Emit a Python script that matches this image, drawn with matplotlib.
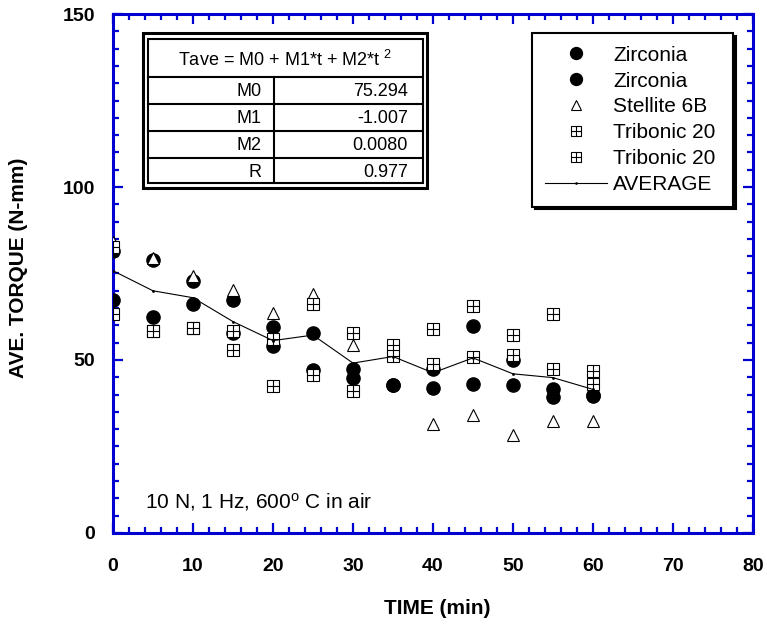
import numpy as np
import matplotlib
matplotlib.use("Agg")
from matplotlib import pyplot as plt
from matplotlib.patches import Rectangle

plt.rcParams['font.family'] = ['Liberation Sans', 'DejaVu Sans']
plt.rcParams['mathtext.default'] = 'regular'

# values
time = [0, 5, 10, 15, 20, 25, 30, 35, 40, 45, 50, 55, 60]
zirc_a = [81.5, 79.0, 72.8, 67.3, 59.5, 57.7, 47.5, 42.8, 47.3, 59.9, 50.0, 41.7, 39.8]
zirc_b = [67.3, 62.5, 66.1, 57.7, 53.9, 47.1, 44.8, 42.8, 42.0, 43.1, 42.8, 39.4, 39.6]
stellite = [84.2, 79.5, 74.3, 70.2, 63.5, 69.1, 54.4, np.nan, 31.4, 34.1, 28.3, 32.4, 32.5]
trib_a = [82.8, 58.5, 59.3, 58.5, 56.0, 66.2, 57.7, 54.3, 58.9, 65.6, 57.2, 63.3, 46.8]
trib_b = [63.3, 58.5, 59.3, 52.9, 42.5, 45.7, 41.1, 51.2, 48.8, 51.0, 51.3, 47.4, 43.0]
average = [75.8, 70.0, 68.0, 61.1, 55.6, 57.2, 49.1, 51.0, 46.3, 50.6, 46.0, 44.9, 41.5]

labels = ['Zirconia', 'Zirconia', 'Stellite 6B', 'Tribonic 20', 'Tribonic 20', 'AVERAGE']
fit_names = ['M0', 'M1', 'M2', 'R']
fit_values = ['75.294', '-1.007', '0.0080', '0.977']

blue = '#0000D0'

fig = plt.figure(figsize=(7.67, 6.26), dpi=100)
ax = fig.add_axes([0.1473, 0.1486, 0.8344, 0.829])

circ_kw = dict(ls='none', marker='o', ms=9.5, color='black')
tri_kw = dict(ls='none', marker='^', ms=8.5, mfc='white', mec='black', mew=0.8)
sq_kw = dict(ls='none', marker='s', ms=8.3, mfc='white', mec='black', mew=0.8)
plus_kw = dict(ls='none', marker='+', ms=8.5, mec='black', mew=0.8)

h1, = ax.plot(time, zirc_a, zorder=3, **circ_kw)
h2, = ax.plot(time, zirc_b, zorder=3, **circ_kw)
h3, = ax.plot(time, stellite, zorder=4, **tri_kw)
s1, = ax.plot(time, trib_a, zorder=5, **sq_kw)
p1, = ax.plot(time, trib_a, zorder=5, **plus_kw)
s2, = ax.plot(time, trib_b, zorder=5, **sq_kw)
p2, = ax.plot(time, trib_b, zorder=5, **plus_kw)
h6, = ax.plot(time, average, color='black', lw=0.8, marker='.', ms=2, zorder=6)

ax.set_xlim(0, 80)
ax.set_ylim(0, 150)
ax.set_xticks(np.arange(0, 81, 10))
ax.set_xticks(np.arange(0, 81, 2), minor=True)
ax.set_yticks([0, 50, 100, 150])
ax.set_yticks(np.arange(0, 151, 5), minor=True)

for sp in ax.spines.values():
    sp.set_color(blue)
    sp.set_linewidth(2.2)
ax.tick_params(which='both', direction='in', top=True, right=True, color=blue, width=1.6)
ax.tick_params(which='major', length=7.5)
ax.tick_params(which='minor', length=4)
ax.tick_params(axis='y', pad=13, labelsize=14)
ax.tick_params(axis='x', pad=18, labelsize=14)
for lab in ax.get_xticklabels() + ax.get_yticklabels():
    lab.set_fontweight('bold')

ax.set_xlabel('TIME (min)', fontsize=15, fontweight='bold')
ax.set_ylabel('AVE. TORQUE (N-mm)', fontsize=15, fontweight='bold')
ax.xaxis.set_label_coords(0.506, -0.127)
ax.yaxis.set_label_coords(-0.133, 0.51)

ax.text(0.05, 0.06, '10 N, 1 Hz, 600$^o$ C in air', transform=ax.transAxes,
        fontsize=15, va='center', ha='left')

# legend
leg = ax.legend([h1, h2, h3, (s1, p1), (s2, p2), h6], labels,
                loc='upper left', bbox_to_anchor=(0.655, 0.638, 0.314, 0.325),
                mode='expand', borderaxespad=0, fontsize=15, frameon=True,
                fancybox=False, labelspacing=0.33, handlelength=3.0,
                handletextpad=0.3, borderpad=0.6, markerscale=0.9,
                shadow={'color': 'black', 'alpha': 1})
leg.get_frame().set_edgecolor('black')
leg.get_frame().set_linewidth(1.5)
leg.set_zorder(10)

# fit table
def px(x, y):
    return ((x - 113) / 640.0, (533 - y) / 519.0)

x0, y0 = px(143, 188)
x1, y1 = px(427, 33)
ax.add_patch(Rectangle((x0, y0), x1 - x0, y1 - y0, transform=ax.transAxes,
                       fc='white', ec='black', lw=2.2, zorder=8, clip_on=False))
ix0, iy0 = px(148, 183)
ix1, iy1 = px(423, 39)
ax.add_patch(Rectangle((ix0, iy0), ix1 - ix0, iy1 - iy0, transform=ax.transAxes,
                       fc='none', ec='black', lw=1.5, zorder=9, clip_on=False))
row_lines = [77, 104, 131, 158]
for yy in row_lines:
    a, b = px(148, yy)
    ax.plot([ix0, ix1], [b, b], transform=ax.transAxes, color='black', lw=1.5, zorder=9)
cx, cy = px(274, 77)
ax.plot([cx, cx], [iy0, cy], transform=ax.transAxes, color='black', lw=1.5, zorder=9)

hx, hy = px(285, 60)
ax.text(hx, hy, 'Tave = M0 + M1*t + M2*t $^2$', transform=ax.transAxes,
        fontsize=13, ha='center', va='center', zorder=10)
for i, (nm, val) in enumerate(zip(fit_names, fit_values)):
    nx, ny = px(262, 91 + 27 * i)
    vx, vy = px(408, 91 + 27 * i)
    ax.text(nx, ny, nm, transform=ax.transAxes, fontsize=13, ha='right', va='center', zorder=10)
    ax.text(vx, vy, val, transform=ax.transAxes, fontsize=13, ha='right', va='center', zorder=10)

fig.savefig('out.png', dpi=100)
